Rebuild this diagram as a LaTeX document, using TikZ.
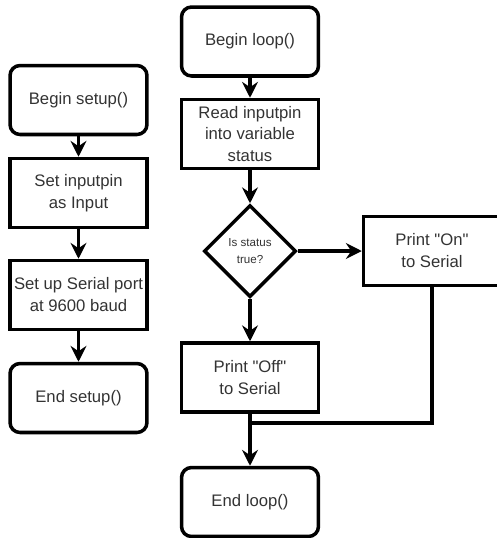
\documentclass[tikz,border=0pt]{standalone}
\usepackage{fontspec}
\setmainfont{Liberation Sans}[Ligatures=TeXOff]
\usetikzlibrary{arrows.meta,shapes.geometric}
\tikzset{>={Stealth[length=9pt,width=9pt,inset=3pt]}}
\tikzset{
    box/.style={draw,line width=2pt,minimum width=2.74cm,minimum height=1.38cm,
        inner sep=1pt,align=center,text=black!80,font=\fontsize{9.5}{12.5}\selectfont},
    term/.style={box,rounded corners=0.2cm},
    test/.style={draw,diamond,aspect=1,line width=2pt,minimum width=1.84cm,
        minimum height=1.84cm,inner sep=0pt,align=center,text=black!80,
        font=\fontsize{6.6}{10}\selectfont}
}
\begin{document}
\begin{tikzpicture}[x=0.02cm,y=-0.02cm]

    \useasboundingbox (0,0) rectangle (497,538);

    % setup()
    \node [term] (bs) at (78.5,100) {Begin setup()};
    \node [box] (pin) at (78.5,193) {Set inputpin\\as Input};
    \node [box] (ser) at (78.5,295) {Set up Serial port\\at 9600 baud};
    \node [term] (es) at (78.5,398) {End setup()};

    % loop()
    \node [term] (bl) at (250,41.5) {Begin loop()};
    \node [box] (rd) at (250,134) {Read inputpin\\into variable\\status};
    \node [test] (st) at (250,251) {Is status\\true?};
    \node [box] (on) at (432,251) {Print "On"\\to Serial};
    \node [box] (off) at (250,377.5) {Print "Off"\\to Serial};
    \node [term] (el) at (250,502) {End loop()};
    \coordinate (j) at (250,423);

    \begin{scope}[line width=2pt]
    \draw[->,color=black] (bs) to (pin);
    \draw[->,color=black] (pin) to (ser);
    \draw[->,color=black] (ser) to (es);
    \draw[->,color=black] (bl) to (rd);
    \draw[->,color=black] (rd) to (st);
    \draw[->,color=black] (st) to (on);
    \draw[->,color=black] (st) to (off);
    \draw[->,color=black] (off) to (el);
    \draw[color=black] (on) |- (j);
    \end{scope}

\end{tikzpicture}
\end{document}
